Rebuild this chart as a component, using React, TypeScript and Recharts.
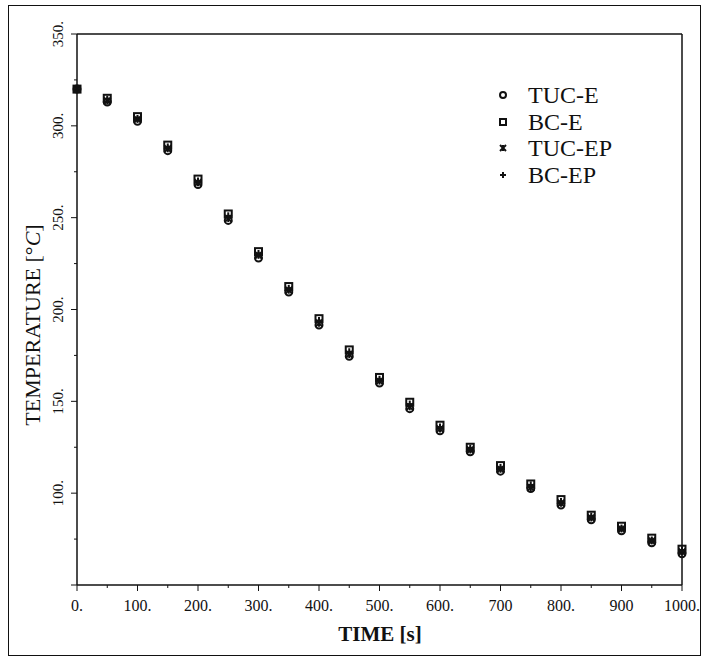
import React from "react";
import { ScatterChart, Scatter, XAxis, YAxis } from "recharts";

// ── Données ───────────────────────────────────────────────────────────────────

const TIME = [0, 50, 100, 150, 200, 250, 300, 350, 400, 450, 500, 550, 600, 650, 700, 750, 800, 850, 900, 950, 1000];

const TUC_E  = [320, 313, 302.5, 286.5, 268, 248.5, 228, 209.5, 191.5, 174.5, 160, 146, 134, 122.5, 112, 102.5, 93.5, 85.5, 79.5, 73, 67];
const BC_E   = [320, 315, 305, 289.5, 271, 252, 231.5, 212.5, 195, 178, 163, 149.5, 137, 125, 115, 105, 96.5, 88, 82, 75.5, 69.5];
const TUC_EP = [320, 313.5, 303.5, 287.5, 269, 249.5, 229.5, 210.5, 192.5, 175.5, 161, 147, 135, 123.5, 113, 103, 94.5, 86.5, 80.5, 74, 68];
const BC_EP  = [320, 314.5, 304, 288.5, 270, 251, 230.5, 211.5, 194, 177, 162, 148.5, 136, 124.5, 114, 104.5, 95.5, 87.5, 81, 74.5, 69];

const X_TICKS = [0, 50, 100, 150, 200, 250, 300, 350, 400, 450, 500, 550, 600, 650, 700, 750, 800, 850, 900, 950, 1000];
const Y_TICKS = [50, 75, 100, 125, 150, 175, 200, 225, 250, 275, 300, 325, 350];

const X_LABELS: Record<number, string> = {
  0: "0.", 100: "100.", 200: "200.", 300: "300.", 400: "400.", 500: "500.",
  600: "600.", 700: "700", 800: "800.", 900: "900", 1000: "1000.",
};
const Y_LABELS: Record<number, string> = {
  100: "100.", 150: "150.", 200: "200.", 250: "250.", 300: "300.", 350: "350.",
};

const SERIES = [
  { name: "TUC-E", values: TUC_E, marker: "circle" },
  { name: "BC-E", values: BC_E, marker: "square" },
  { name: "TUC-EP", values: TUC_EP, marker: "star" },
  { name: "BC-EP", values: BC_EP, marker: "plus" },
];

const FONT = "'Liberation Serif', 'DejaVu Serif', serif";
const INK = "#111";

// ── Marqueurs ─────────────────────────────────────────────────────────────────

function Marker({ kind, cx, cy, s = 3.5 }: { kind: string; cx: number; cy: number; s?: number }) {
  if (kind === "circle") return <circle cx={cx} cy={cy} r={s} fill="none" stroke={INK} strokeWidth={2} />;
  if (kind === "square") return <rect x={cx - s} y={cy - s} width={2 * s} height={2 * s} fill="none" stroke={INK} strokeWidth={2} />;
  if (kind === "star")
    return (
      <g stroke={INK} strokeWidth={2}>
        <line x1={cx - s} y1={cy - s} x2={cx + s} y2={cy + s} />
        <line x1={cx - s} y1={cy + s} x2={cx + s} y2={cy - s} />
        <line x1={cx} y1={cy - s} x2={cx} y2={cy + s} />
      </g>
    );
  return (
    <g stroke={INK} strokeWidth={2}>
      <line x1={cx - s} y1={cy} x2={cx + s} y2={cy} />
      <line x1={cx} y1={cy - s} x2={cx} y2={cy + s} />
    </g>
  );
}

// ── Graduations ───────────────────────────────────────────────────────────────

function BottomTick({ x, y, payload }: any) {
  const v = payload.value as number;
  const major = v % 100 === 0;
  return (
    <g>
      <line x1={x} y1={y} x2={x} y2={y + (major ? 6 : 3)} stroke={INK} strokeWidth={1} />
      {major && (
        <text x={x} y={y + 26} textAnchor="middle" fontFamily={FONT} fontSize={16} fill={INK}>
          {X_LABELS[v]}
        </text>
      )}
    </g>
  );
}

function TopTick({ x, y, payload }: any) {
  const major = (payload.value as number) % 100 === 0;
  return <line x1={x} y1={y} x2={x} y2={y - (major ? 6 : 3)} stroke={INK} strokeWidth={1} />;
}

function LeftTick({ x, y, payload }: any) {
  const v = payload.value as number;
  const major = v % 50 === 0;
  const label = Y_LABELS[v];
  return (
    <g>
      <line x1={x} y1={y} x2={x - (major ? 6 : 3)} y2={y} stroke={INK} strokeWidth={1} />
      {label && (
        <text
          x={x - 19}
          y={y}
          transform={`rotate(-90 ${x - 19} ${y})`}
          textAnchor="middle"
          dominantBaseline="central"
          fontFamily={FONT}
          fontSize={15}
          fill={INK}
        >
          {label}
        </text>
      )}
    </g>
  );
}

function RightTick({ x, y, payload }: any) {
  const major = (payload.value as number) % 50 === 0;
  return <line x1={x} y1={y} x2={x + (major ? 6 : 3)} y2={y} stroke={INK} strokeWidth={1} />;
}

// ── Légende custom ────────────────────────────────────────────────────────────

function LegendBox() {
  return (
    <div
      style={{
        position: "absolute", left: 496, top: 82, fontFamily: FONT, fontSize: 24,
        color: INK, lineHeight: "26.5px", pointerEvents: "none",
      }}
    >
      {SERIES.map((s) => (
        <div key={s.name} style={{ display: "flex", alignItems: "center", height: 26.5 }}>
          <svg width={32} height={26}>
            <Marker kind={s.marker} cx={7} cy={13} s={3} />
          </svg>
          <span>{s.name}</span>
        </div>
      ))}
    </div>
  );
}

export default function App() {
  return (
    <div style={{ position: "absolute", left: 0, top: 0, width: 703, height: 658, background: "#fff" }}>
      <div
        style={{
          position: "absolute", left: 8, top: 5, width: 693, height: 651,
          border: `1.5px solid ${INK}`, boxSizing: "border-box",
        }}
      />
      <ScatterChart width={703} height={658} margin={{ top: 24, right: 11, bottom: 23, left: 27 }}>
        <XAxis
          xAxisId="b" type="number" dataKey="x" domain={[0, 1000]} ticks={X_TICKS}
          orientation="bottom" height={50} tickSize={0} tickMargin={0} tickLine={false}
          tick={<BottomTick />} stroke={INK} strokeWidth={1.5} interval={0}
        />
        <XAxis
          xAxisId="t" type="number" dataKey="x" domain={[0, 1000]} ticks={X_TICKS}
          orientation="top" height={10} tickSize={0} tickMargin={0} tickLine={false}
          tick={<TopTick />} stroke={INK} strokeWidth={1.5} interval={0}
        />
        <YAxis
          yAxisId="l" type="number" dataKey="y" domain={[50, 350]} ticks={Y_TICKS}
          orientation="left" width={50} tickSize={0} tickMargin={0} tickLine={false}
          tick={<LeftTick />} stroke={INK} strokeWidth={1.5} interval={0}
        />
        <YAxis
          yAxisId="r" type="number" dataKey="y" domain={[50, 350]} ticks={Y_TICKS}
          orientation="right" width={10} tickSize={0} tickMargin={0} tickLine={false}
          tick={<RightTick />} stroke={INK} strokeWidth={1.5} interval={0}
        />
        {SERIES.map((s) => (
          <Scatter
            key={s.name}
            name={s.name}
            xAxisId="b"
            yAxisId="l"
            data={TIME.map((t, i) => ({ x: t, y: s.values[i] }))}
            isAnimationActive={false}
            shape={(p: any) => <Marker kind={s.marker} cx={p.cx} cy={p.cy} />}
          />
        ))}
        <text x={380} y={641} textAnchor="middle" fontFamily={FONT} fontSize={21} fontWeight="bold" fill={INK}>
          TIME [s]
        </text>
        <text
          x={32}
          y={325}
          transform="rotate(-90 32 325)"
          textAnchor="middle"
          dominantBaseline="central"
          fontFamily={FONT}
          fontSize={22}
          fill={INK}
        >
          TEMPERATURE [°<tspan fontStyle="italic">C</tspan>]
        </text>
      </ScatterChart>
      <LegendBox />
    </div>
  );
}
